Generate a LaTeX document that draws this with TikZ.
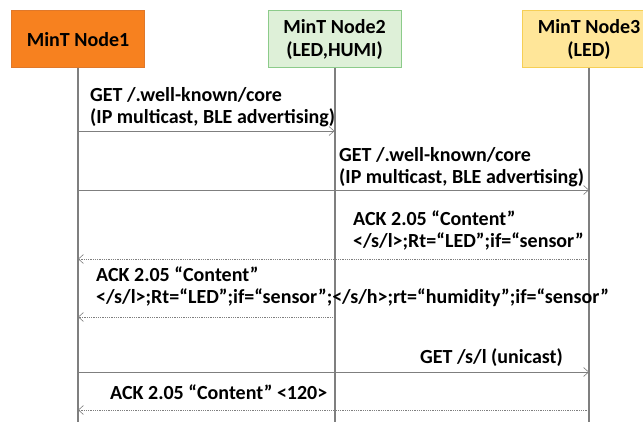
\documentclass[tikz,border=0pt]{standalone}
\usepackage{fontspec}
\setmainfont{Carlito}
\usetikzlibrary{arrows.meta}

\definecolor{mintorange}{HTML}{F7811F}
\definecolor{mintorangeline}{HTML}{E0782A}
\definecolor{mintgreen}{HTML}{DEF0D8}
\definecolor{mintgreenline}{HTML}{8CCB8A}
\definecolor{mintyellow}{HTML}{FFE699}
\definecolor{mintyellowline}{HTML}{F6CF55}
\definecolor{lifegray}{HTML}{7F7F7F}

\tikzset{
		mintnode/.style = {shape=rectangle, draw, line width=1pt,
				align=center, minimum width=133, minimum height=57,
				font=\bfseries\fontsize{20}{22.5}\selectfont},
		node1/.style    = {mintnode, fill=mintorange, draw=mintorangeline},
		node2/.style    = {mintnode, fill=mintgreen, draw=mintgreenline},
		node3/.style    = {mintnode, fill=mintyellow, draw=mintyellowline},
		lifeline/.style = {draw=lifegray, line width=2pt},
		msg/.style      = {draw=lifegray, line width=0.8pt,
				-{Straight Barb[length=5pt,width=9pt,line width=0.6pt]}},
		reply/.style    = {msg, densely dotted},
		lbl/.style      = {anchor=base west, inner sep=0pt, align=left,
				font=\bfseries\fontsize{20}{22.5}\selectfont}
	}

\begin{document}
\begin{tikzpicture}
				[x=1pt, y=-1pt]
				\useasboundingbox (0,0) rectangle (643,422);
				\clip (0,0) rectangle (643,422);
				% participants
				\node [node1] (n1) at (78,39.5)  {MinT Node1};
				\node [node2] (n2) at (334.5,39.5) {MinT Node2\\(LED,HUMI)};
				\node [node3] (n3) at (589,39.5) {MinT Node3\\(LED)};
				\coordinate (bot) at (0,424);
				\foreach \n in {n1,n2,n3}
					\draw [lifeline] (\n.south) -- (\n |- bot);
				% message rows
				\coordinate (r1) at (0,131);
				\coordinate (r2) at (0,190);
				\coordinate (r3) at (0,259);
				\coordinate (r4) at (0,317);
				\coordinate (r5) at (0,372);
				\coordinate (r6) at (0,410);
				\draw [msg]   (n1 |- r1) -- (n2 |- r1);
				\draw [msg]   (n1 |- r2) -- (n3 |- r2);
				\draw [reply] (n3 |- r3) -- (n1 |- r3);
				\draw [reply] (n2 |- r4) -- (n1 |- r4);
				\draw [msg]   (n1 |- r5) -- (n3 |- r5);
				\draw [reply] (n3 |- r6) -- (n1 |- r6);
				% labels (base = last line)
				\node [lbl] (t1) at (90,124)  {GET /.well-known/core\\(IP multicast, BLE advertising)};
				\node [lbl] (t2) at (339,184) {GET /.well-known/core\\(IP multicast, BLE advertising)};
				\node [lbl] (t3) at (353,248) {ACK 2.05 “Content”\\</s/l>;Rt=“LED”;if=“sensor”};
				\node [lbl] (t4) at (96,304)  {ACK 2.05 “Content”\\</s/l>;Rt=“LED”;if=“sensor”;</s/h>;rt=“humidity”;if=“sensor”};
				\node [lbl] (t5) at (420,363) {GET /s/l (unicast)};
				\node [lbl] (t6) at (110,399) {ACK 2.05 “Content” <120>};
			\end{tikzpicture}
\end{document}
